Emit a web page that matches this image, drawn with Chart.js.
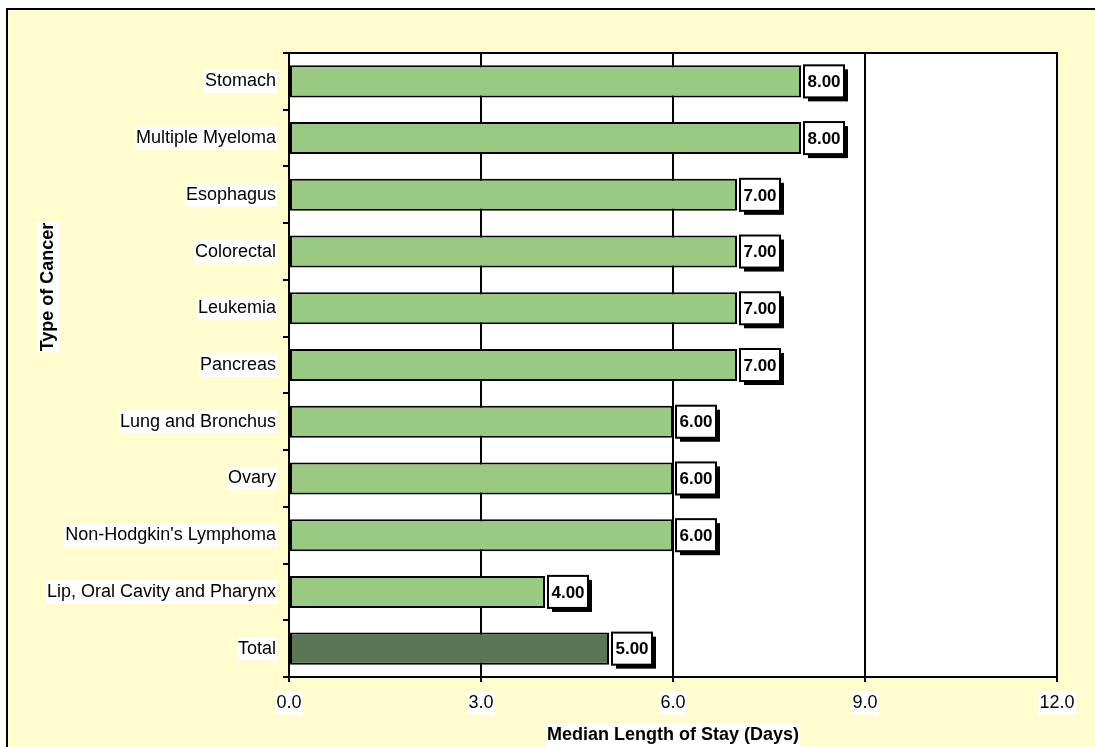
<!DOCTYPE html>
<html>
<head>
<meta charset="utf-8">
<title>Median Length of Stay</title>
<script src="https://cdn.jsdelivr.net/npm/chart.js@4/dist/chart.umd.min.js"></script>
<style>
  html, body { margin: 0; padding: 0; background: #fff; overflow: hidden; }
  canvas { display: block; }
</style>
</head>
<body>
<canvas id="stay-chart" width="1095" height="747"></canvas>
<script>
// Chart data
const categories = [
    'Stomach', 'Multiple Myeloma', 'Esophagus', 'Colorectal', 'Leukemia', 'Pancreas',
    'Lung and Bronchus', 'Ovary', "Non-Hodgkin's Lymphoma", 'Lip, Oral Cavity and Pharynx', 'Total'
];
const medianStay = [8, 8, 7, 7, 7, 7, 6, 6, 6, 4, 5];
const xMin = 0;
const xMax = 12;
const xStep = 3;
const xTitle = 'Median Length of Stay (Days)';
const yTitle = 'Type of Cancer';

const FONT = "'Liberation Sans', Arial, sans-serif";
const LIGHT_GREEN = '#9ac982';
const DARK_GREEN = '#5b7653';
const PAPER = '#fffccd';

// Yellow page, outer frame and white plot area
const backgroundPlugin = {
    id: 'background',
    beforeDraw(chart) {
        const { ctx, chartArea } = chart;
        ctx.save();
        ctx.fillStyle = '#ffffff';
        ctx.fillRect(0, 0, chart.width, chart.height);
        ctx.fillStyle = PAPER;
        ctx.fillRect(7, 9, chart.width + 20, chart.height + 20);
        ctx.strokeStyle = '#000';
        ctx.lineWidth = 2;
        ctx.strokeRect(7, 9, chart.width + 20, chart.height + 20);
        ctx.fillStyle = '#ffffff';
        ctx.fillRect(chartArea.left, chartArea.top, chartArea.right - chartArea.left, chartArea.bottom - chartArea.top);
        ctx.restore();
    },
    afterDraw(chart) {
        const { ctx, chartArea } = chart;
        ctx.save();
        ctx.strokeStyle = '#000';
        ctx.lineWidth = 2;
        ctx.beginPath();
        ctx.moveTo(chartArea.left, chartArea.top);
        ctx.lineTo(chartArea.right, chartArea.top);
        ctx.lineTo(chartArea.right, chartArea.bottom);
        ctx.stroke();
        ctx.restore();
    }
};

// Axis titles with a white box behind them
const axisTitlePlugin = {
    id: 'axisTitles',
    afterDraw(chart) {
        const { ctx, chartArea } = chart;
        ctx.save();
        ctx.font = 'bold 18px ' + FONT;
        ctx.textAlign = 'center';
        ctx.textBaseline = 'middle';

        // x title
        const xc = (chartArea.left + chartArea.right) / 2;
        const yc = 735;
        let w = ctx.measureText(xTitle).width;
        ctx.fillStyle = '#fff';
        ctx.fillRect(xc - w / 2 - 1, yc - 12, w + 2, 24);
        ctx.fillStyle = '#000';
        ctx.fillText(xTitle, xc, yc);

        // y title, rotated
        ctx.translate(48, 287);
        ctx.rotate(-Math.PI / 2);
        w = ctx.measureText(yTitle).width;
        ctx.fillStyle = '#fff';
        ctx.fillRect(-w / 2 - 1, -11, w + 2, 22);
        ctx.fillStyle = '#000';
        ctx.fillText(yTitle, 0, 0);
        ctx.restore();
    }
};

// Value boxes with a drop shadow at the end of each bar
const valueLabelPlugin = {
    id: 'valueLabels',
    afterDatasetsDraw(chart) {
        const { ctx } = chart;
        const meta = chart.getDatasetMeta(0);
        ctx.save();
        ctx.font = 'bold 17px ' + FONT;
        ctx.textAlign = 'center';
        ctx.textBaseline = 'middle';
        meta.data.forEach((bar, i) => {
            const text = medianStay[i].toFixed(2);
            const boxW = 40;
            const boxH = bar.height;
            const left = bar.x + 3;
            const top = bar.y - boxH / 2;
            ctx.fillStyle = '#000';
            ctx.fillRect(left + 4, top + 4, boxW, boxH);
            ctx.fillStyle = '#fff';
            ctx.fillRect(left, top, boxW, boxH);
            ctx.strokeStyle = '#000';
            ctx.lineWidth = 2;
            ctx.strokeRect(left, top, boxW, boxH);
            ctx.fillStyle = '#000';
            ctx.fillText(text, left + boxW / 2, bar.y + 1);
        });
        ctx.restore();
    }
};

const ctx = document.getElementById('stay-chart').getContext('2d');

const stayChart = new Chart(ctx, {
    type: 'bar',
    data: {
        labels: categories,
        datasets: [{
            data: medianStay,
            backgroundColor: c => categories[c.dataIndex] === 'Total' ? DARK_GREEN : LIGHT_GREEN,
            borderColor: '#000',
            borderWidth: 2,
            borderSkipped: false,
            barPercentage: 0.565,
            categoryPercentage: 1
        }]
    },
    options: {
        indexAxis: 'y',
        responsive: false,
        animation: false,
        devicePixelRatio: 1,
        layout: {
            padding: { left: 0, top: 53, right: 38, bottom: 0 }
        },
        plugins: {
            legend: { display: false },
            tooltip: { enabled: false }
        },
        scales: {
            x: {
                min: xMin,
                max: xMax,
                ticks: {
                    stepSize: xStep,
                    color: '#000',
                    padding: 10,
                    font: { family: FONT, size: 18 },
                    showLabelBackdrop: true,
                    backdropColor: '#fff',
                    backdropPadding: { top: 1, bottom: 1, left: 1, right: 1 },
                    callback: v => Number(v).toFixed(1)
                },
                grid: {
                    color: '#000',
                    lineWidth: 2,
                    tickLength: 5
                },
                border: { color: '#000', width: 2 },
                afterFit: s => { s.height = 70; }
            },
            y: {
                ticks: {
                    color: '#000',
                    padding: 7,
                    font: { family: FONT, size: 18 },
                    showLabelBackdrop: true,
                    backdropColor: '#fff',
                    backdropPadding: { top: 1, bottom: 1, left: 1, right: 1 }
                },
                grid: {
                    offset: true,
                    drawOnChartArea: false,
                    color: '#000',
                    lineWidth: 2,
                    tickLength: 6
                },
                border: { color: '#000', width: 2 },
                afterFit: s => { s.width = 289; }
            }
        }
    },
    plugins: [backgroundPlugin, valueLabelPlugin, axisTitlePlugin]
});
</script>
</body>
</html>
